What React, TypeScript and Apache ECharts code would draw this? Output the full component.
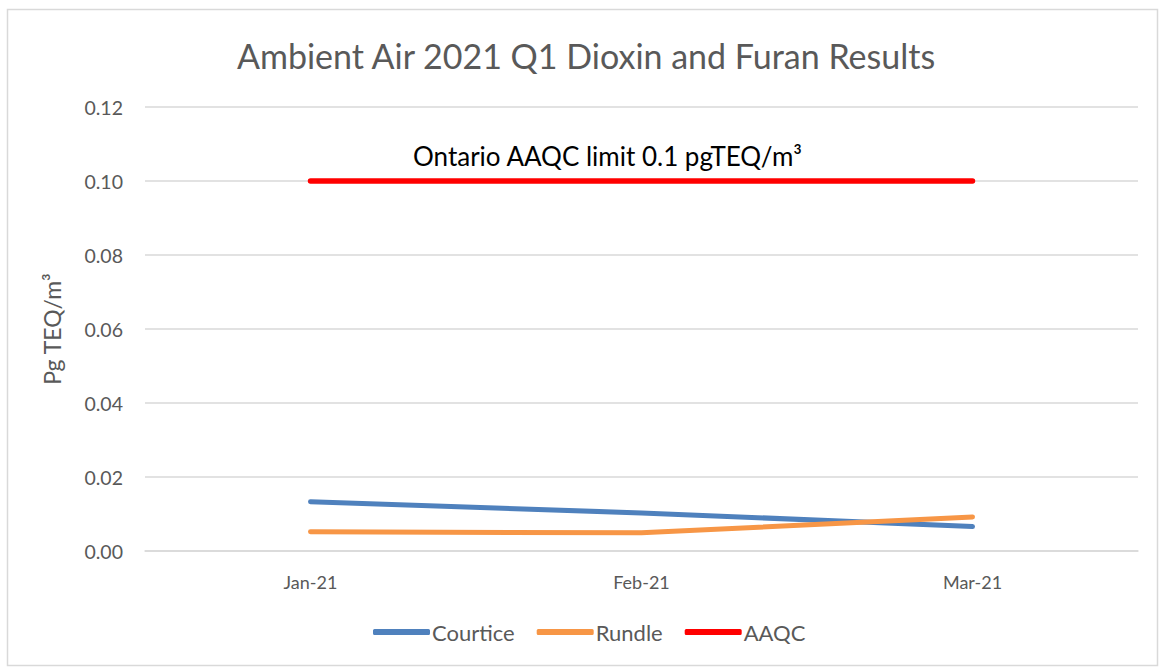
import React, { useEffect, useRef } from "react";
import * as echarts from "echarts";

const categories = ["Jan-21", "Feb-21", "Mar-21"];
const courtice = [0.0133, 0.0103, 0.0066];
const rundle = [0.0052, 0.0049, 0.0092];
const aaqc = [0.1, 0.1, 0.1];
const yTicks = { min: 0, max: 0.12, interval: 0.02 };

const FONT = "Lato";
const GREY = "#595959";

export default function App() {
  const ref = useRef<HTMLDivElement>(null);
  useEffect(() => {
    if (!ref.current) return;
    const chart = echarts.init(ref.current, null, { renderer: "svg" });
    chart.setOption({
      animation: false,
      backgroundColor: "#ffffff",
      title: {
        text: "Ambient Air 2021 Q1 Dioxin and Furan Results",
        left: 232,
        top: 33,
        textStyle: { fontFamily: FONT, fontSize: 34, fontWeight: "normal", color: GREY },
      },
      graphic: [
        {
          type: "rect",
          shape: { x: 7.5, y: 9.5, width: 1150, height: 656 },
          style: { fill: "none", stroke: "#d9d9d9", lineWidth: 1.5 },
          silent: true,
        },
      ],
      legend: {
        bottom: 20,
        left: 368,
        icon: "roundRect",
        itemWidth: 57,
        itemHeight: 6,
        itemGap: 22,
        textStyle: { fontFamily: FONT, fontSize: 22, color: GREY, padding: [0, 0, 0, -3] },
        data: ["Courtice", "Rundle", "AAQC"],
      },
      grid: { left: 145, right: 22, top: 107, bottom: 117 },
      xAxis: {
        type: "category",
        data: categories,
        boundaryGap: true,
        axisLine: { lineStyle: { color: "#d9d9d9", width: 1.5 } },
        axisTick: { show: false },
        axisLabel: { fontFamily: FONT, fontSize: 18, color: GREY, margin: 22 },
      },
      yAxis: {
        type: "value",
        min: yTicks.min,
        max: yTicks.max,
        interval: yTicks.interval,
        name: "Pg TEQ/m³",
        nameLocation: "middle",
        nameGap: 82,
        nameTextStyle: { fontFamily: FONT, fontSize: 23, color: GREY },
        axisLine: { show: false },
        axisTick: { show: false },
        splitLine: { lineStyle: { color: "#d9d9d9", width: 1.5 } },
        axisLabel: {
          fontFamily: FONT,
          fontSize: 19.5,
          color: GREY,
          margin: 22,
          formatter: (v: number) => v.toFixed(2),
        },
      },
      series: [
        {
          name: "Courtice",
          type: "line",
          data: courtice,
          symbol: "none",
          lineStyle: { color: "#4F81BD", width: 5, cap: "round" },
          itemStyle: { color: "#4F81BD" },
        },
        {
          name: "Rundle",
          type: "line",
          data: rundle,
          symbol: "none",
          lineStyle: { color: "#F79646", width: 5, cap: "round" },
          itemStyle: { color: "#F79646" },
        },
        {
          name: "AAQC",
          type: "line",
          data: aaqc.map((v, i) =>
            i === 1
              ? {
                  value: v,
                  label: {
                    show: true,
                    position: "top",
                    distance: 0,
                    offset: [-34, -12],
                    formatter: "Ontario AAQC limit 0.1 pgTEQ/m³",
                    fontFamily: FONT,
                    fontSize: 26,
                    color: "#000000",
                  },
                }
              : v
          ),
          symbol: "circle",
          symbolSize: 0,
          showSymbol: true,
          lineStyle: { color: "#FF0000", width: 5.5, cap: "round" },
          itemStyle: { color: "#FF0000" },
        },
      ],
    });
    return () => chart.dispose();
  }, []);
  return (
    <div
      ref={ref}
      style={{ position: "absolute", left: 0, top: 0, width: 1160, height: 668 }}
    />
  );
}
